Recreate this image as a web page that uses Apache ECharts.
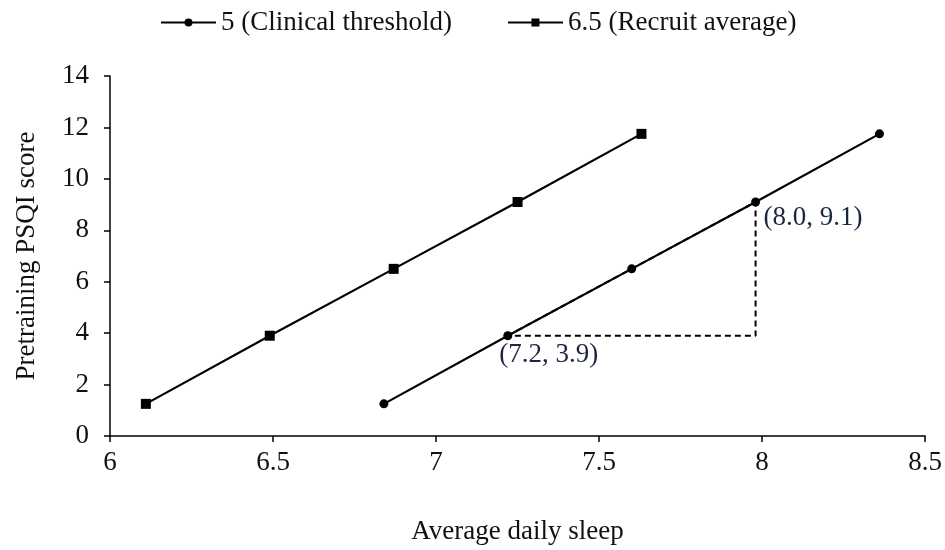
<!DOCTYPE html>
<html>
<head>
<meta charset="utf-8">
<script src="https://cdn.jsdelivr.net/npm/echarts@6/dist/echarts.min.js"></script>
<style>
  html, body { margin: 0; padding: 0; background: #fff; }
  #main { width: 945px; height: 550px; }
</style>
</head>
<body>
<div id="main"></div>
<script>
// data
var thresholdX = [6.84, 7.22, 7.6, 7.98, 8.36];
var recruitX = [6.11, 6.49, 6.87, 7.25, 7.63];
var psqiY = [1.25, 3.9, 6.5, 9.1, 11.75];
var seriesNames = ['5 (Clinical threshold)', '6.5 (Recruit average)'];
// dashed triangle: low point, high point, corner
var triX = [7.22, 7.98, 7.98, 7.22];
var triY = [3.9, 9.1, 3.9, 3.9];
var noteText = ['(7.2, 3.9)', '(8.0, 9.1)'];

var font = 'Liberation Serif';
var fs = 27;

function pairs(xs, ys) {
    var out = [];
    for (var i = 0; i < xs.length; i++) out.push([xs[i], ys[i]]);
    return out;
}

var chart = echarts.init(document.getElementById('main'));

var option = {
    animation: false,
    textStyle: { fontFamily: font },
    legend: {
        data: seriesNames,
        top: 4,
        left: 155,
        itemWidth: 55,
        itemHeight: 10,
        itemGap: 55,
        textStyle: { fontFamily: font, fontSize: fs, color: '#111' }
    },
    grid: { left: 110, right: 18, top: 76, bottom: 112 },
    xAxis: {
        type: 'value',
        min: 6, max: 8.5, interval: 0.5,
        name: 'Average daily sleep',
        nameLocation: 'middle',
        nameGap: 82,
        nameTextStyle: { fontFamily: font, fontSize: fs, color: '#111' },
        axisLine: { show: true, lineStyle: { color: '#000', width: 1.5 } },
        axisTick: { show: true, length: 6, lineStyle: { color: '#000', width: 1.5 } },
        axisLabel: { margin: 13, fontFamily: font, fontSize: fs, color: '#111' },
        splitLine: { show: false }
    },
    yAxis: {
        type: 'value',
        min: 0, max: 14, interval: 2,
        name: 'Pretraining PSQI score',
        nameLocation: 'middle',
        nameGap: 70,
        nameTextStyle: { fontFamily: font, fontSize: fs, color: '#111' },
        axisLine: { show: true, lineStyle: { color: '#000', width: 1.5 } },
        axisTick: { show: true, length: 6, lineStyle: { color: '#000', width: 1.5 } },
        axisLabel: { margin: 21, fontFamily: font, fontSize: fs, color: '#111' },
        splitLine: { show: false }
    },
    series: [
        {
            name: seriesNames[0],
            type: 'line',
            data: pairs(thresholdX, psqiY),
            symbol: 'circle',
            symbolSize: 9,
            itemStyle: { color: '#000' },
            lineStyle: { color: '#000', width: 2.2 },
            z: 3
        },
        {
            name: seriesNames[1],
            type: 'line',
            data: pairs(recruitX, psqiY),
            symbol: 'rect',
            symbolSize: 10,
            itemStyle: { color: '#000' },
            lineStyle: { color: '#000', width: 2.2 },
            z: 3
        },
        {
            name: 'triangle',
            type: 'line',
            data: pairs(triX, triY),
            symbol: 'none',
            lineStyle: { color: '#000', width: 2, type: [6, 4] },
            z: 2
        },
        {
            name: 'notes',
            type: 'scatter',
            symbolSize: 0,
            itemStyle: { opacity: 1 },
            data: [
                { value: [triX[0], triY[0]], label: { position: 'bottom', offset: [41, 1] } },
                { value: [triX[1], triY[1]], label: { position: 'right', offset: [3, 16] } }
            ],
            label: {
                show: true,
                fontFamily: font,
                fontSize: fs,
                color: '#1d2545',
                formatter: function (p) { return noteText[p.dataIndex]; }
            },
            z: 4
        }
    ]
};

chart.setOption(option);
</script>
</body>
</html>
